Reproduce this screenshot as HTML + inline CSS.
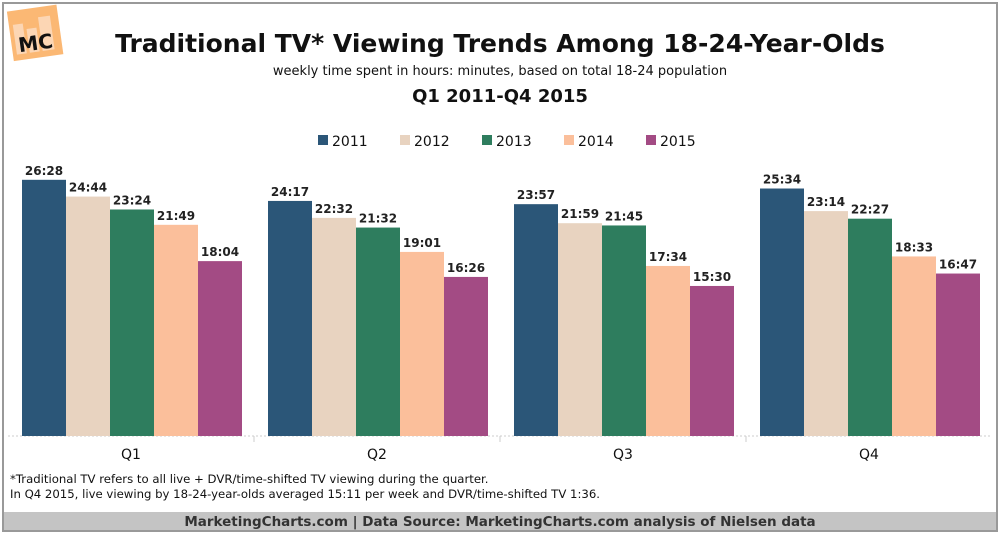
<!DOCTYPE html>
<html><head><meta charset="utf-8"><style>
body{margin:0;background:#fff;}
svg{display:block;font-family:"DejaVu Sans","Liberation Sans",sans-serif;}
</style></head><body>
<svg id="chart" width="1000" height="535" viewBox="0 0 1000 535">
<rect x="3" y="3" width="994" height="528" fill="#fff" stroke="#999" stroke-width="2"/>
<g transform="rotate(-8 34 32)">
<rect x="10" y="8" width="50" height="50" fill="#fbb874"/>
<rect x="14" y="22" width="10" height="30" fill="#fcd6b4"/><rect x="27" y="28" width="10" height="24" fill="#fcd6b4"/><rect x="40" y="18" width="12" height="34" fill="#fcd6b4"/>
<text x="34" y="50" text-anchor="middle" font-size="20" font-weight="bold" fill="#111">MC</text>
</g>
<text x="500" y="52" text-anchor="middle" font-size="25" font-weight="bold" fill="#111">Traditional TV* Viewing Trends Among 18-24-Year-Olds</text>
<text x="500" y="75" text-anchor="middle" font-size="13" fill="#111">weekly time spent in hours: minutes, based on total 18-24 population</text>
<text x="500" y="102" text-anchor="middle" font-size="18" font-weight="bold" fill="#111">Q1 2011-Q4 2015</text>
<g id="legend"></g>
<line x1="8" y1="436" x2="992" y2="436" stroke="#ccc" stroke-dasharray="2,2"/>
<g id="bars"></g>
<text x="10" y="483" font-size="11.7" fill="#111">*Traditional TV refers to all live + DVR/time-shifted TV viewing during the quarter.</text>
<text x="10" y="498" font-size="11.7" fill="#111">In Q4 2015, live viewing by 18-24-year-olds averaged 15:11 per week and DVR/time-shifted TV 1:36.</text>
<rect x="4" y="512" width="992" height="18" fill="#c4c4c4"/>
<text x="500" y="526" text-anchor="middle" font-size="13.5" font-weight="bold" fill="#333">MarketingCharts.com | Data Source: MarketingCharts.com analysis of Nielsen data</text>
</svg>
<script>
const categories = ["Q1","Q2","Q3","Q4"];
const seriesNames = ["2011","2012","2013","2014","2015"];
const s2011 = ["26:28","24:17","23:57","25:34"];
const s2012 = ["24:44","22:32","21:59","23:14"];
const s2013 = ["23:24","21:32","21:45","22:27"];
const s2014 = ["21:49","19:01","17:34","18:33"];
const s2015 = ["18:04","16:26","15:30","16:47"];
const series = [s2011,s2012,s2013,s2014,s2015];
const colors = ["#2b5678","#e8d3c0","#2e7d5e","#fbbf9b","#a34b84"];
const NS="http://www.w3.org/2000/svg";
const toH = s => { const p=s.split(":"); return +p[0] + (+p[1])/60; };
const y = h => 436 - h*9.68;
const groupX = i => 8 + i*246;
const bars=document.getElementById("bars"), legend=document.getElementById("legend");
function mk(tag, attrs, parent){const e=document.createElementNS(NS,tag);for(const k in attrs)e.setAttribute(k,attrs[k]);parent.appendChild(e);return e;}
categories.forEach((c,i)=>{
  if(i>0){const d=mk("line",{x1:groupX(i),y1:436,x2:groupX(i),y2:442,stroke:"#ccc"},bars);
    
    }
  series.forEach((s,j)=>{
    const v=toH(s[i]); const x=groupX(i)+14+j*44;
    const r=mk("rect",{x:x,y:y(v),width:44,height:436-y(v),fill:colors[j]},bars);
    
    
    const t=mk("text",{x:x+22,y:y(v)-5,"text-anchor":"middle","font-size":"12","font-weight":"bold",fill:"#222"},bars);
    t.textContent=s[i];
    
    
  });
  const l=mk("text",{x:groupX(i)+123,y:459,"text-anchor":"middle","font-size":"14",fill:"#111"},bars);
  l.textContent=c;
  
  
});
seriesNames.forEach((n,j)=>{
  const x=318+j*82;
  const g=mk("g",{},legend);
  
  
  mk("rect",{x:x,y:135,width:10,height:10,fill:colors[j]},g);
  const t=mk("text",{x:x+14,y:146,"font-size":"14",fill:"#111"},g);
  t.textContent=n;
});
</script>
</body></html>
